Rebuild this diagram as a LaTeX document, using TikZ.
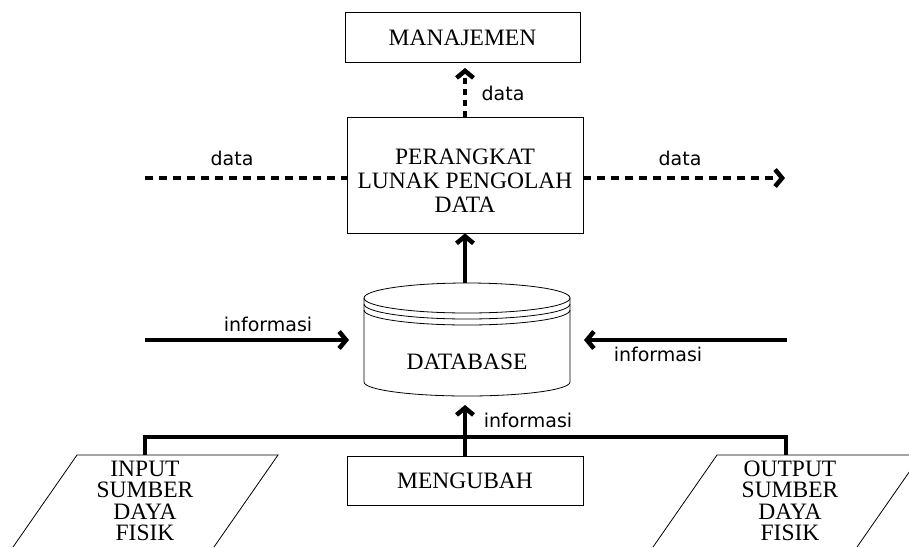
\documentclass[tikz,border=0pt]{standalone}
\usepackage{fontspec}
\setmainfont{Liberation Serif}
\newfontfamily\labfont{DejaVu Sans}
\usetikzlibrary{arrows.meta}
\begin{document}
\begin{tikzpicture}[x=1pt,y=-1pt,
  box/.style={draw, line width=0.8pt, inner sep=0pt},
  txt/.style={inner sep=0pt, align=center, font=\fontsize{23.5}{24}\selectfont},
  ptxt/.style={inner sep=0pt, align=center, font=\fontsize{23.5}{21.5}\selectfont},
  lab/.style={inner sep=0pt, font=\labfont\fontsize{19}{20}\selectfont},
  tip/.style={-{Straight Barb[length=7pt,width=17pt,line width=4.5pt]}},
  thickline/.style={line width=3.5pt},
  flow/.style={line width=3.5pt, tip},
  dashline/.style={line width=3.5pt, dash pattern=on 8pt off 6pt},
  dotline/.style={line width=3.5pt, dash pattern=on 6pt off 5pt},
  thinline/.style={line width=0.8pt}
]
\clip (0,0) rectangle (909,547);
\fill[white] (0,0) rectangle (909,547);

% boxes
\node[box, minimum width=235pt, minimum height=50pt] (man) at (462.5,37) {};
\node[txt] (mant) at (462.5,38) {MANAJEMEN};
\node[box, minimum width=236pt, minimum height=116pt] (plo) at (465,175) {};
\node[txt] (plot) at (465,181) {PERANGKAT\\LUNAK PENGOLAH\\DATA};
\node[box, minimum width=236pt, minimum height=49pt] (mgb) at (465,480.5) {};
\node[txt] (mgbt) at (465,481) {MENGUBAH};

% database cylinder
\node[minimum width=206pt, minimum height=113pt, inner sep=0pt] (db) at (467,339.5) {};
\draw[thinline] (467,298) ellipse [x radius=103pt, y radius=15pt];
\draw[thinline] (364,304) arc[start angle=180, end angle=360, x radius=103pt, y radius=15pt];
\draw[thinline] (364,310) arc[start angle=180, end angle=360, x radius=103pt, y radius=15pt];
\draw[thinline] (364,298) -- (364,382) arc[start angle=180, end angle=360, x radius=103pt, y radius=14pt] -- (570,298);
\node[txt] (dbt) at (467,362) {DATABASE};

% parallelograms
\draw[thinline] (13,547) -- (77,455) -- (278,455) -- (214,547);
\node[ptxt] (inp) at (145,501) {INPUT\\SUMBER\\DAYA\\FISIK};
\draw[thinline] (653,547) -- (717,455) -- (921,455) -- (857,547);
\node[ptxt] (outp) at (790,501) {OUTPUT\\SUMBER\\DAYA\\FISIK};

% coordinates
\coordinate (pin) at (145,455);
\coordinate (pout) at (786,455);
\coordinate (infL) at (145,340);
\coordinate (infLe) at (349,340);
\coordinate (infR) at (787,340);
\coordinate (infRe) at (584,340);
\coordinate (dbin) at (465,405);
\coordinate (dL) at (145,178);
\coordinate (dR) at (785,178);
\coordinate (manin) at (465,68);

% connectors
\draw[flow] (plo.south |- db.north) -- (plo.south);
\draw[flow] (mgb.north) -- (dbin);
\draw[thickline] (pin) -- ++(0,-18) -| (pout);
\draw[flow] (infL) -- (infLe);
\draw[flow] (infR) -- (infRe);
\draw[dashline] (dL) -- (plo.west |- dL);
\draw[dashline, tip] (plo.east |- dR) -- (dR);
\draw[dotline, tip] (plo.north) -- (manin);

% labels
\node[lab] (l1) at (503,93) {data};
\node[lab] (l2) at (232,158) {data};
\node[lab] (l3) at (680,158) {data};
\node[lab] (l4) at (268,324) {informasi};
\node[lab] (l5) at (658,354) {informasi};
\node[lab] (l6) at (528,420) {informasi};
\end{tikzpicture}
\end{document}
